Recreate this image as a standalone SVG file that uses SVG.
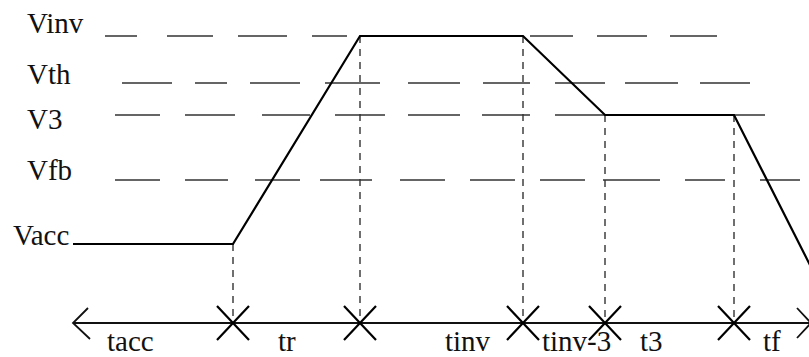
<svg xmlns="http://www.w3.org/2000/svg" width="809" height="357" viewBox="0 0 809 357">
<style>
text{font-family:"Liberation Serif","Times New Roman",serif;font-size:29px;fill:#111}
.lvl{stroke:#333;stroke-width:1.6;fill:none}
.vd{stroke:#333;stroke-width:1.4;fill:none;stroke-dasharray:7 6}
.wave{stroke:#000;stroke-width:2.2;fill:none;stroke-linejoin:miter}
.axis{stroke:#111;stroke-width:1.8;fill:none}
.x{stroke:#000;stroke-width:2.2;fill:none}
</style>
<rect width="809" height="357" fill="#fff"/>
<g id="levels">
<path class="lvl" d="M105 36H137M167 36H213M238 36H287M312 36H347M530 36H573M597 36H647M670 36H717"/>
<path class="lvl" d="M122 83H172M195 83H227M250 83H300M325 83H380M408 83H460M483 83H530M555 83H605M625 83H678M700 83H750"/>
<path class="lvl" d="M115 115H160M185 115H235M262 115H310M335 115H385M408 115H460M482 115H530M555 115H605M734 115H765"/>
<path class="lvl" d="M115 180H160M185 180H228M255 180H300M320 180H372M400 180H445M470 180H515M540 180H585M603 180H660M685 180H725M760 180H800"/>
</g>
<g id="guides">
<path class="vd" d="M233 244V323M360 36V323M523 36V323M605 115V323M734 115V323"/>
</g>
<g id="connectors">
<path class="wave" d="M73 244H233L360 36H523L605 115H734L812 269"/>
<path class="axis" d="M73 323H812"/>
<path class="axis" d="M88 308L73 323L90 339M797 308L811 323L797 338"/>
<path class="x" d="M217 306L249 340M249 306L217 340M344 306L376 340M376 306L344 340M507 306L539 340M539 306L507 340M589 306L621 340M621 306L589 340M718 306L750 340M750 306L718 340"/>
</g>
<g id="vlabels">
<text x="27" y="33">Vinv</text>
<text x="27" y="84">Vth</text>
<text x="27" y="129">V3</text>
<text x="27" y="180">Vfb</text>
<text x="13" y="245">Vacc</text>
</g>
<g id="tlabels">
<text x="107" y="351">tacc</text>
<text x="278" y="351">tr</text>
<text x="445" y="351">tinv</text>
<text x="542" y="351">tinv-3</text>
<text x="640" y="351">t3</text>
<text x="763" y="351">tf</text>
</g>
</svg>
